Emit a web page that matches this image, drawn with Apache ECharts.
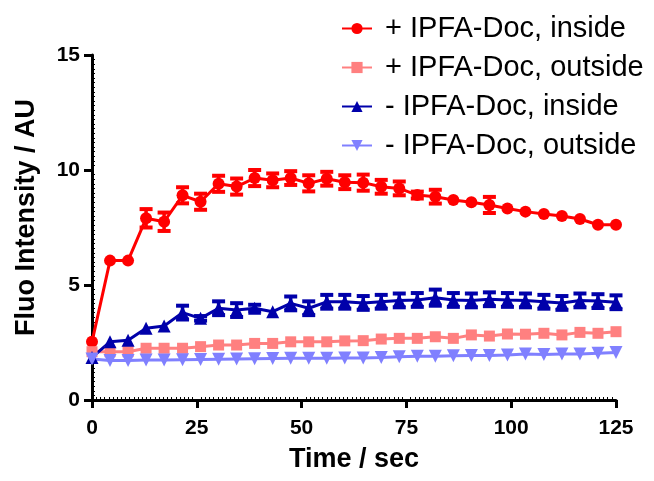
<!DOCTYPE html>
<html>
<head>
<meta charset="utf-8">
<script src="https://cdn.jsdelivr.net/npm/echarts@6/dist/echarts.min.js"></script>
<style>html,body{margin:0;padding:0;background:#fff}#c{width:654px;height:481px}</style>
</head>
<body>
<div id="c"></div>
<script>
const time = [0, 4.3, 8.6, 12.9, 17.2, 21.6, 25.9, 30.2, 34.5, 38.8, 43.1, 47.4, 51.7, 56.0, 60.3, 64.7, 69.0, 73.3, 77.6, 81.9, 86.2, 90.5, 94.8, 99.1, 103.4, 107.8, 112.1, 116.4, 120.7, 125.0];
const plusInside = [2.53, 6.06, 6.06, 7.9, 7.75, 8.9, 8.62, 9.4, 9.28, 9.65, 9.55, 9.65, 9.42, 9.62, 9.47, 9.45, 9.27, 9.2, 8.91, 8.84, 8.7, 8.6, 8.48, 8.33, 8.19, 8.09, 8.0, 7.87, 7.62, 7.62];
const plusInsideErr = [0, 0, 0, 0.4, 0.4, 0.35, 0.35, 0.35, 0.35, 0.35, 0.3, 0.3, 0.35, 0.3, 0.3, 0.35, 0.3, 0.3, 0.15, 0.3, 0, 0, 0.35, 0, 0, 0, 0, 0, 0, 0];
const plusOutside = [2.1, 2.1, 2.1, 2.25, 2.25, 2.25, 2.32, 2.39, 2.39, 2.46, 2.46, 2.53, 2.53, 2.53, 2.57, 2.58, 2.65, 2.68, 2.68, 2.75, 2.68, 2.83, 2.78, 2.87, 2.86, 2.9, 2.83, 2.94, 2.9, 2.97];
const minusInside = [1.85, 2.53, 2.6, 3.12, 3.22, 3.8, 3.55, 3.99, 3.91, 3.99, 3.84, 4.2, 3.99, 4.27, 4.27, 4.22, 4.27, 4.33, 4.35, 4.45, 4.35, 4.33, 4.38, 4.35, 4.33, 4.27, 4.22, 4.33, 4.3, 4.25];
const minusInsideErr = [0, 0, 0, 0, 0, 0.3, 0.1, 0.3, 0.3, 0.15, 0, 0.3, 0.3, 0.3, 0.3, 0.3, 0.3, 0.3, 0.3, 0.35, 0.3, 0.3, 0.3, 0.3, 0.3, 0.3, 0.3, 0.3, 0.3, 0.3];
const minusOutside = [1.78, 1.72, 1.72, 1.74, 1.74, 1.75, 1.76, 1.77, 1.78, 1.79, 1.8, 1.81, 1.81, 1.82, 1.83, 1.83, 1.85, 1.88, 1.9, 1.9, 1.92, 1.94, 1.94, 1.96, 2.0, 1.98, 2.0, 2.0, 2.03, 2.06];
const names = ['+ IPFA-Doc, inside', '+ IPFA-Doc, outside', '- IPFA-Doc, inside', '- IPFA-Doc, outside'];
const xTicks = [0, 125, 25];
const yTicks = [0, 15, 5];

const colors = ['#ff0000', '#ff8080', '#0000aa', '#8080ff'];
const symbols = ['circle', 'rect', 'triangle', 'path://M0,0 L10,0 L5,9 Z'];
const sizes = [12, 11, 13, 13];
const vals = [plusInside, plusOutside, minusInside, minusOutside];
const errs = [plusInsideErr, null, minusInsideErr, null];

const chart = echarts.init(document.getElementById('c'));
const font = 'Liberation Sans, Arial, sans-serif';
function axisCommon() {
  return {
    axisLine: {show: true, lineStyle: {color: '#000', width: 3}},
    axisTick: {show: true, length: 8, lineStyle: {color: '#000', width: 3}},
    minorTick: {show: true, splitNumber: 25, length: -3, lineStyle: {color: '#000', width: 1}},
    splitLine: {show: false},
    axisLabel: {color: '#000', fontFamily: font, fontWeight: 'bold', fontSize: 21, margin: 12},
    nameTextStyle: {color: '#000', fontFamily: font, fontWeight: 'bold', fontSize: 27}
  };
}
const series = [];
vals.forEach((v, i) => {
  if (errs[i]) {
    series.push({
      type: 'custom',
      name: names[i] + ' err',
      data: time.map((t, k) => [t, v[k], errs[i][k]]),
      clip: false,
      z: 2,
      renderItem: function (params, api) {
        const x = api.value(0), y = api.value(1), e = api.value(2);
        if (!e) return null;
        const top = api.coord([x, y + e]);
        const bot = api.coord([x, y - e]);
        const hw = 6.5;
        const st = {stroke: colors[i], lineWidth: 3.5};
        const cs = {stroke: colors[i], lineWidth: 4};
        return {type: 'group', children: [
          {type: 'line', shape: {x1: top[0], y1: top[1], x2: bot[0], y2: bot[1]}, style: st},
          {type: 'line', shape: {x1: top[0] - hw, y1: top[1], x2: top[0] + hw, y2: top[1]}, style: cs},
          {type: 'line', shape: {x1: bot[0] - hw, y1: bot[1], x2: bot[0] + hw, y2: bot[1]}, style: cs}
        ]};
      }
    });
  }
  series.push({
    type: 'line',
    name: names[i],
    data: time.map((t, k) => [t, v[k]]),
    symbol: symbols[i],
    symbolSize: sizes[i],
    showAllSymbol: true,
    clip: false,
    z: 3,
    color: colors[i],
    lineStyle: {color: colors[i], width: 3},
    itemStyle: {color: colors[i]}
  });
});

const xAxis = Object.assign(axisCommon(), {
  type: 'value', min: xTicks[0], max: xTicks[1], interval: xTicks[2],
  name: 'Time / sec', nameLocation: 'middle', nameGap: 46
});
xAxis.axisLabel = Object.assign({}, xAxis.axisLabel, {margin: 18});

chart.setOption({
  animation: false,
  backgroundColor: '#fff',
  grid: {left: 92, right: 38, top: 55, bottom: 81, containLabel: false},
  legend: {
    data: names,
    orient: 'vertical',
    left: 341,
    top: 14,
    itemWidth: 30,
    itemHeight: 14,
    itemGap: 10,
    padding: 0,
    textStyle: {color: '#000', fontFamily: font, fontSize: 29, padding: [0, 0, 0, 8]}
  },
  xAxis: xAxis,
  yAxis: Object.assign(axisCommon(), {
    type: 'value', min: yTicks[0], max: yTicks[1], interval: yTicks[2],
    name: 'Fluo Intensity / AU', nameLocation: 'middle', nameGap: 52,
    nameTextStyle: {color: '#000', fontFamily: font, fontWeight: 'bold', fontSize: 27, padding: [0, 0, 0, 20]}
  }),
  series: series
});
</script>
</body>
</html>
